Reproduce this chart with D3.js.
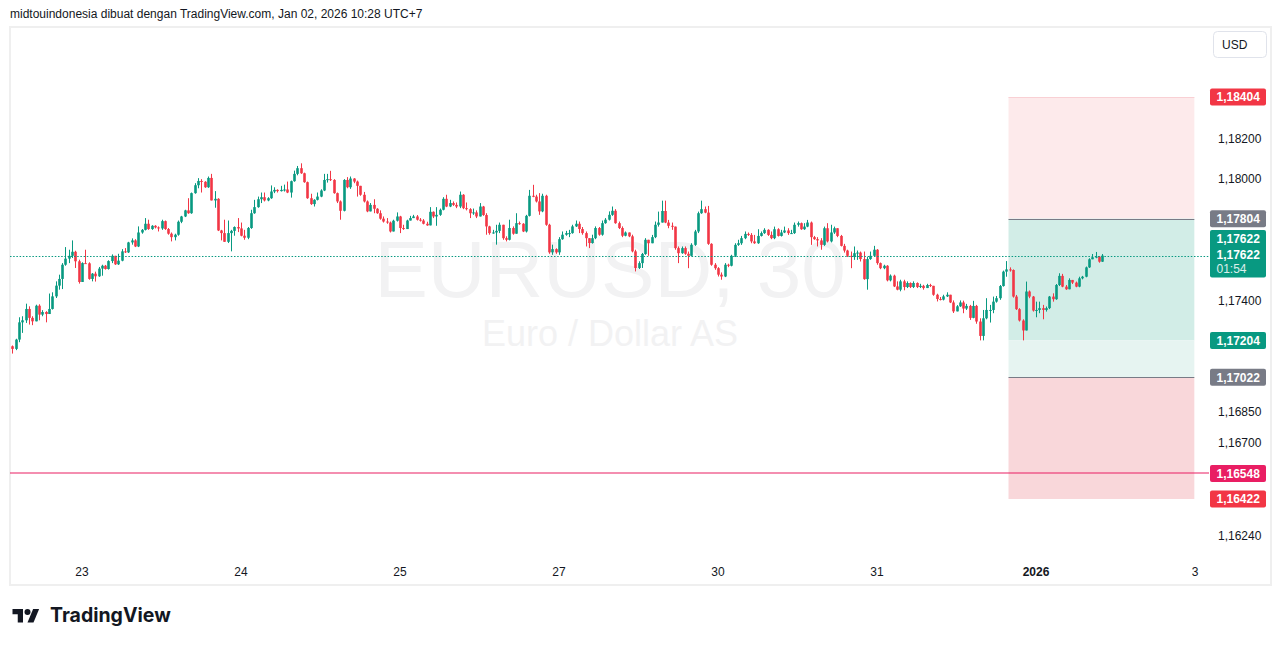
<!DOCTYPE html>
<html><head><meta charset="utf-8">
<script src="https://cdn.jsdelivr.net/npm/d3@7"></script>
<style>body{margin:0;background:#fff;} svg{display:block;}</style>
</head><body>
<svg id="c" width="1281" height="646"></svg>
<script>
// ---------------- DATA (EURUSD 30m) ----------------
const firstOpen = 1.17175;
const closes = [
1.17162,1.17208,1.17293,1.17303,1.17359,1.17315,1.17298,1.17375,1.17331,1.17344,
1.17334,1.17359,1.17421,1.17474,1.17507,1.17577,1.17607,1.17621,1.17641,1.17594,
1.17492,1.17585,1.17584,1.17507,1.17533,1.17520,1.17558,1.17572,1.17556,1.17595,
1.17621,1.17579,1.17597,1.17643,1.17638,1.17687,1.17697,1.17667,1.17736,1.17749,
1.17779,1.17753,1.17769,1.17761,1.17756,1.17792,1.17753,1.17730,1.17713,1.17725,
1.17789,1.17815,1.17845,1.17831,1.17930,1.17969,1.17990,1.17986,1.17959,1.18005,
1.17894,1.17902,1.17746,1.17733,1.17690,1.17733,1.17744,1.17763,1.17756,1.17720,
1.17710,1.17758,1.17831,1.17861,1.17900,1.17910,1.17894,1.17905,1.17938,1.17946,
1.17940,1.17946,1.17948,1.17933,1.17989,1.18025,1.18053,1.18028,1.17984,1.17905,
1.17876,1.17897,1.17913,1.17943,1.17995,1.17999,
1.17995,1.17930,1.17889,1.17843,1.17995,1.17959,1.18002,1.17987,1.17966,1.17922,
1.17889,1.17840,1.17872,1.17853,1.17831,1.17804,1.17790,1.17785,1.17741,1.17794,
1.17815,1.17758,1.17753,1.17795,1.17807,1.17815,1.17799,1.17795,1.17779,1.17771,
1.17838,1.17815,1.17823,1.17848,1.17902,1.17864,1.17881,1.17872,1.17864,1.17922,
1.17856,1.17851,1.17831,1.17835,1.17815,1.17864,1.17822,1.17766,1.17733,1.17736,
1.17744,1.17774,1.17708,1.17700,1.17758,1.17730,1.17782,1.17779,1.17741,1.17818,
1.17917,1.17913,1.17889,1.17840,1.17917,1.17774,1.17638,1.17654,1.17638,1.17703,
1.17725,1.17733,1.17733,1.17766,1.17779,1.17753,1.17733,1.17708,1.17684,1.17708,
1.17758,1.17725,1.17782,1.17799,1.17823,1.17843,1.17782,1.17758,1.17720,1.17736,
1.17717,1.17643,1.17561,1.17585,1.17630,1.17700,
1.17683,1.17713,1.17774,1.17785,1.17842,1.17785,1.17769,1.17765,1.17659,1.17634,
1.17659,1.17631,1.17621,1.17675,1.17741,1.17831,1.17851,1.17834,1.17680,1.17577,
1.17560,1.17528,1.17519,1.17577,1.17572,1.17621,1.17675,1.17683,1.17708,1.17729,
1.17724,1.17692,1.17683,1.17719,1.17733,1.17749,1.17724,1.17708,1.17752,1.17719,
1.17736,1.17746,1.17733,1.17733,1.17774,1.17782,1.17752,1.17765,1.17785,1.17713,
1.17703,1.17697,1.17675,1.17757,1.17692,1.17736,1.17757,1.17719,1.17670,1.17647,
1.17621,1.17615,1.17634,1.17637,1.17605,1.17506,1.17605,1.17621,1.17651,1.17585,
1.17560,1.17572,1.17500,1.17523,1.17470,1.17454,1.17495,1.17467,1.17487,1.17467,
1.17487,1.17467,1.17473,1.17462,1.17477,1.17473,1.17429,1.17408,1.17405,1.17421,
1.17429,1.17391,1.17347,1.17372,1.17391,
1.17361,1.17374,1.17315,1.17374,1.17297,1.17226,1.17313,1.17354,1.17354,1.17395,
1.17412,1.17472,1.17543,1.17554,1.17551,1.17420,1.17358,1.17302,1.17253,1.17445,
1.17420,1.17351,1.17354,1.17363,1.17354,1.17363,1.17420,1.17407,1.17477,1.17522,
1.17469,1.17456,1.17502,1.17489,1.17469,1.17510,1.17518,1.17564,1.17604,1.17614,
1.17617,1.17592,1.17622
];
const highs = [
1.17179,1.17212,1.17318,1.17323,1.17385,1.17372,1.17323,1.17380,1.17382,1.17353,
1.17348,1.17435,1.17441,1.17495,1.17528,1.17585,1.17664,1.17651,1.17697,1.17646,
1.17602,1.17589,1.17651,1.17589,1.17536,1.17543,1.17566,1.17577,1.17576,1.17599,
1.17628,1.17615,1.17631,1.17654,1.17659,1.17690,1.17707,1.17703,1.17766,1.17753,
1.17807,1.17799,1.17772,1.17772,1.17766,1.17799,1.17795,1.17758,1.17736,1.17730,
1.17795,1.17818,1.17848,1.17905,1.17933,1.17979,1.18004,1.17999,1.17989,1.18012,
1.18025,1.17940,1.17905,1.17749,1.17799,1.17795,1.17749,1.17766,1.17807,1.17785,
1.17749,1.17763,1.17848,1.17897,1.17913,1.17933,1.17933,1.17910,1.17968,1.17959,
1.17949,1.17966,1.17972,1.17987,1.17992,1.18041,1.18064,1.18077,1.18031,1.17987,
1.17927,1.17900,1.17933,1.17949,1.18025,1.18025,
1.18040,1.17999,1.17933,1.17894,1.17999,1.18009,1.18012,1.18004,1.17992,1.17949,
1.17936,1.17894,1.17881,1.17900,1.17856,1.17845,1.17815,1.17807,1.17790,1.17799,
1.17835,1.17818,1.17774,1.17799,1.17818,1.17823,1.17822,1.17807,1.17802,1.17789,
1.17861,1.17840,1.17861,1.17854,1.17910,1.17922,1.17897,1.17889,1.17884,1.17938,
1.17925,1.17884,1.17856,1.17854,1.17845,1.17881,1.17867,1.17831,1.17769,1.17749,
1.17774,1.17785,1.17774,1.17717,1.17799,1.17766,1.17831,1.17790,1.17782,1.17823,
1.17946,1.17971,1.17922,1.17930,1.17927,1.17922,1.17779,1.17676,1.17658,1.17713,
1.17741,1.17744,1.17749,1.17774,1.17795,1.17790,1.17763,1.17741,1.17708,1.17725,
1.17766,1.17763,1.17795,1.17807,1.17840,1.17864,1.17851,1.17790,1.17766,1.17741,
1.17736,1.17725,1.17651,1.17594,1.17635,1.17708,
1.17692,1.17724,1.17790,1.17839,1.17893,1.17893,1.17798,1.17785,1.17765,1.17667,
1.17667,1.17667,1.17642,1.17683,1.17749,1.17839,1.17893,1.17864,1.17867,1.17683,
1.17585,1.17565,1.17539,1.17585,1.17582,1.17626,1.17683,1.17700,1.17719,1.17741,
1.17736,1.17733,1.17724,1.17752,1.17741,1.17757,1.17752,1.17741,1.17765,1.17757,
1.17749,1.17765,1.17757,1.17749,1.17785,1.17790,1.17785,1.17782,1.17798,1.17790,
1.17719,1.17713,1.17708,1.17765,1.17782,1.17774,1.17765,1.17741,1.17724,1.17680,
1.17651,1.17642,1.17667,1.17647,1.17642,1.17642,1.17615,1.17642,1.17670,1.17654,
1.17588,1.17577,1.17575,1.17529,1.17528,1.17495,1.17503,1.17503,1.17495,1.17490,
1.17495,1.17490,1.17483,1.17478,1.17483,1.17483,1.17473,1.17434,1.17418,1.17429,
1.17441,1.17429,1.17401,1.17378,1.17401,
1.17400,1.17384,1.17379,1.17399,1.17379,1.17313,1.17354,1.17412,1.17379,1.17420,
1.17423,1.17477,1.17548,1.17595,1.17564,1.17554,1.17428,1.17363,1.17308,1.17494,
1.17450,1.17423,1.17395,1.17395,1.17379,1.17371,1.17423,1.17436,1.17482,1.17535,
1.17532,1.17477,1.17510,1.17502,1.17494,1.17518,1.17522,1.17568,1.17609,1.17630,
1.17640,1.17620,1.17630
];
const lows = [
1.17139,1.17156,1.17195,1.17241,1.17290,1.17282,1.17279,1.17298,1.17303,1.17323,
1.17293,1.17334,1.17356,1.17413,1.17454,1.17457,1.17572,1.17585,1.17610,1.17561,
1.17484,1.17492,1.17582,1.17503,1.17495,1.17494,1.17517,1.17523,1.17553,1.17553,
1.17585,1.17576,1.17576,1.17594,1.17635,1.17635,1.17676,1.17664,1.17664,1.17730,
1.17746,1.17749,1.17749,1.17756,1.17741,1.17749,1.17749,1.17725,1.17692,1.17697,
1.17720,1.17782,1.17812,1.17828,1.17828,1.17927,1.17954,1.17933,1.17956,1.17956,
1.17894,1.17858,1.17743,1.17697,1.17690,1.17684,1.17643,1.17720,1.17738,1.17717,
1.17700,1.17703,1.17754,1.17828,1.17858,1.17881,1.17889,1.17890,1.17902,1.17930,
1.17933,1.17938,1.17938,1.17930,1.17908,1.17986,1.18018,1.18025,1.17981,1.17902,
1.17872,1.17864,1.17894,1.17910,1.17940,1.17982,
1.17990,1.17927,1.17881,1.17799,1.17840,1.17954,1.17951,1.17979,1.17913,1.17917,
1.17884,1.17836,1.17840,1.17831,1.17828,1.17799,1.17785,1.17779,1.17736,1.17746,
1.17790,1.17733,1.17749,1.17754,1.17795,1.17807,1.17795,1.17790,1.17776,1.17769,
1.17802,1.17807,1.17769,1.17818,1.17845,1.17861,1.17861,1.17867,1.17856,1.17856,
1.17851,1.17845,1.17807,1.17823,1.17807,1.17815,1.17818,1.17725,1.17725,1.17730,
1.17676,1.17733,1.17700,1.17692,1.17697,1.17725,1.17730,1.17774,1.17738,1.17736,
1.17815,1.17910,1.17884,1.17823,1.17836,1.17769,1.17631,1.17626,1.17631,1.17626,
1.17700,1.17720,1.17713,1.17730,1.17763,1.17733,1.17725,1.17667,1.17659,1.17681,
1.17703,1.17720,1.17720,1.17779,1.17795,1.17818,1.17779,1.17753,1.17713,1.17717,
1.17713,1.17638,1.17544,1.17556,1.17561,1.17626,
1.17621,1.17692,1.17708,1.17765,1.17831,1.17782,1.17757,1.17749,1.17651,1.17585,
1.17631,1.17626,1.17560,1.17618,1.17670,1.17733,1.17828,1.17831,1.17675,1.17572,
1.17552,1.17519,1.17503,1.17516,1.17565,1.17569,1.17615,1.17670,1.17675,1.17703,
1.17719,1.17683,1.17680,1.17680,1.17716,1.17729,1.17719,1.17703,1.17703,1.17716,
1.17716,1.17733,1.17724,1.17729,1.17729,1.17765,1.17749,1.17749,1.17762,1.17675,
1.17700,1.17667,1.17651,1.17670,1.17687,1.17687,1.17729,1.17713,1.17667,1.17637,
1.17615,1.17560,1.17601,1.17601,1.17593,1.17503,1.17454,1.17601,1.17618,1.17577,
1.17555,1.17555,1.17495,1.17495,1.17467,1.17451,1.17446,1.17451,1.17462,1.17462,
1.17462,1.17462,1.17462,1.17454,1.17462,1.17467,1.17424,1.17396,1.17401,1.17401,
1.17418,1.17388,1.17339,1.17352,1.17369,
1.17338,1.17354,1.17305,1.17313,1.17286,1.17204,1.17204,1.17308,1.17292,1.17338,
1.17390,1.17404,1.17469,1.17518,1.17543,1.17415,1.17354,1.17297,1.17204,1.17253,
1.17412,1.17346,1.17318,1.17338,1.17308,1.17346,1.17358,1.17395,1.17404,1.17472,
1.17466,1.17453,1.17494,1.17482,1.17466,1.17466,1.17505,1.17515,1.17561,1.17604,
1.17609,1.17587,1.17591
];
const timeLabels = ["23","24","25","27","30","31","2026","3"];
const timeIndex  = [21, 69, 117, 165, 213, 261, 309, 357];
const priceTicks = [1.18200, 1.18000, 1.17400, 1.16850, 1.16700, 1.16240];
const lastPrice = 1.17622;
const countdown = "01:54";
const posTarget = 1.18404, posTopLine = 1.17804, posMid = 1.17204, posEntry = 1.17022, posStop = 1.16422;
const alertLevel = 1.16548;
const posStartIdx = 300.7, posEndIdx = 356.8;

// ---------------- DRAW ----------------
const UP = "#089981", DOWN = "#f23645";
const svg = d3.select("#c");
const FONT = "'Liberation Sans', Arial, sans-serif";
const x = d3.scaleLinear().domain([21, 309]).range([82, 1036]);
const y = d3.scaleLinear().domain([1.16422, 1.18404]).range([499, 97]);
const fmt = v => v.toFixed(5).replace(".", ",");
const plotL = 10, plotR = 1209;

svg.append("rect").attr("width", 1281).attr("height", 646).attr("fill", "#fff");

// header
svg.append("text").attr("x", 10).attr("y", 18).attr("font-family", FONT).attr("font-size", 12)
  .attr("fill", "#131722").text("midtouindonesia dibuat dengan TradingView.com, Jan 02, 2026 10:28 UTC+7");

// frame
svg.append("rect").attr("x", 10).attr("y", 27).attr("width", 1261).attr("height", 558)
  .attr("fill", "none").attr("stroke", "#efefef").attr("stroke-width", 2);

// watermark
svg.append("text").attr("x", 610).attr("y", 297).attr("text-anchor", "middle")
  .attr("font-family", FONT).attr("font-size", 80).attr("fill", "#f2f2f3").text("EURUSD, 30");
svg.append("text").attr("x", 610).attr("y", 346).attr("text-anchor", "middle")
  .attr("font-family", FONT).attr("font-size", 36).attr("fill", "#f2f2f3").text("Euro / Dollar AS");

// position tool
const px1 = x(posStartIdx), px2 = x(posEndIdx);
const band = (a, b, col) => svg.append("rect").attr("x", px1).attr("width", px2 - px1)
  .attr("y", y(a)).attr("height", y(b) - y(a)).attr("fill", col);
band(posTarget, posTopLine, "#fdeaeb");
band(posTopLine, posMid, "#d2ede7");
band(posMid, posEntry, "#e6f4f1");
band(posEntry, posStop, "#f9d7da");
svg.append("line").attr("x1", px1).attr("x2", px2).attr("y1", y(posTarget) + 0.5).attr("y2", y(posTarget) + 0.5)
  .attr("stroke", "#f9d0d4");
[posTopLine, posEntry].forEach(v => svg.append("line").attr("x1", px1).attr("x2", px2)
  .attr("y1", Math.round(y(v)) + 0.5).attr("y2", Math.round(y(v)) + 0.5).attr("stroke", "#787b86"));

// candles
const bars = closes.map((c, i) => {
  const o = i === 0 ? firstOpen : closes[i - 1];
  return { i, o, c, h: Math.max(highs[i], o, c), l: Math.min(lows[i], o, c) };
});
const g = svg.append("g");
g.selectAll("line.w").data(bars).join("line").attr("class", "w")
  .attr("x1", d => Math.round(x(d.i)) + 0.5).attr("x2", d => Math.round(x(d.i)) + 0.5)
  .attr("y1", d => y(d.h)).attr("y2", d => y(d.l))
  .attr("stroke", d => d.c >= d.o ? UP : DOWN).attr("stroke-width", 1);
g.selectAll("rect.b").data(bars).join("rect").attr("class", "b")
  .attr("x", d => Math.round(x(d.i)) + 0.5 - 1.3).attr("width", 2.6)
  .attr("y", d => y(Math.max(d.o, d.c)))
  .attr("height", d => Math.max(1, Math.abs(y(d.o) - y(d.c))))
  .attr("fill", d => d.c >= d.o ? UP : DOWN);

// last price dotted line
svg.append("line").attr("x1", plotL).attr("x2", plotR)
  .attr("y1", Math.round(y(lastPrice)) + 0.5).attr("y2", Math.round(y(lastPrice)) + 0.5)
  .attr("stroke", UP).attr("stroke-width", 1).attr("stroke-dasharray", "1.5 1.7");

// alert line
svg.append("line").attr("x1", plotL).attr("x2", plotR)
  .attr("y1", Math.round(y(alertLevel))).attr("y2", Math.round(y(alertLevel)))
  .attr("stroke", "#e91e63").attr("stroke-width", 1.2);

// price axis ticks
svg.append("g").selectAll("text").data(priceTicks).join("text")
  .attr("x", 1218).attr("y", d => y(d)).attr("dy", "0.35em")
  .attr("font-family", FONT).attr("font-size", 12).attr("fill", "#131722").text(fmt);

// badges
const badge = (v, col) => {
  svg.append("rect").attr("x", 1210).attr("width", 56).attr("y", y(v) - 8.5).attr("height", 17)
    .attr("rx", 2).attr("fill", col);
  svg.append("text").attr("x", 1216.5).attr("y", y(v)).attr("dy", "0.35em")
    .attr("font-family", FONT).attr("font-size", 12).attr("font-weight", "bold")
    .attr("fill", "#fff").text(fmt(v));
};
badge(posTarget, "#f23645");
badge(posTopLine, "#787b86");
badge(posMid, "#089981");
badge(posEntry, "#787b86");
badge(alertLevel, "#e91e63");
badge(posStop, "#f23645");
// current price block
const ly = y(lastPrice);
svg.append("rect").attr("x", 1210).attr("width", 56).attr("y", ly - 25.5).attr("height", 47.5)
  .attr("rx", 2).attr("fill", UP);
[[fmt(lastPrice), -17], [fmt(lastPrice), -1], [countdown, 13]].forEach(([t, dy]) =>
  svg.append("text").attr("x", 1216.5).attr("y", ly + dy).attr("dy", "0.35em")
    .attr("font-family", FONT).attr("font-size", 12).attr("font-weight", t === countdown ? "normal" : "bold")
    .attr("fill", "#fff").attr("opacity", t === countdown ? 0.85 : 1).text(t));

// currency box
svg.append("rect").attr("x", 1213.5).attr("y", 31.5).attr("width", 53).attr("height", 26).attr("rx", 4)
  .attr("fill", "#fff").attr("stroke", "#e0e3eb");
svg.append("text").attr("x", 1222).attr("y", 44.5).attr("dy", "0.35em")
  .attr("font-family", FONT).attr("font-size", 12).attr("fill", "#131722").text("USD");

// time axis
svg.append("g").selectAll("text").data(timeLabels).join("text")
  .attr("x", (d, k) => x(timeIndex[k])).attr("y", 572).attr("dy", "0.35em").attr("text-anchor", "middle")
  .attr("font-family", FONT).attr("font-size", 12).attr("fill", "#131722")
  .attr("font-weight", d => d === "2026" ? "bold" : "normal").text(d => d);

// logo
const lg = svg.append("g").attr("transform", "translate(12.5,606) scale(0.75)").attr("fill", "#131722");
lg.append("path").attr("d", "M14 22H7V11H0V4h14v18z");
lg.append("circle").attr("cx", 20).attr("cy", 8).attr("r", 4);
lg.append("path").attr("d", "M28 22h-8l7.5-18h8L28 22z");
svg.append("text").attr("x", 50).attr("y", 622).attr("font-family", "Inter, sans-serif")
  .attr("font-weight", 700).attr("font-size", 19.5).attr("fill", "#131722").text("TradingView");
</script>
</body></html>
